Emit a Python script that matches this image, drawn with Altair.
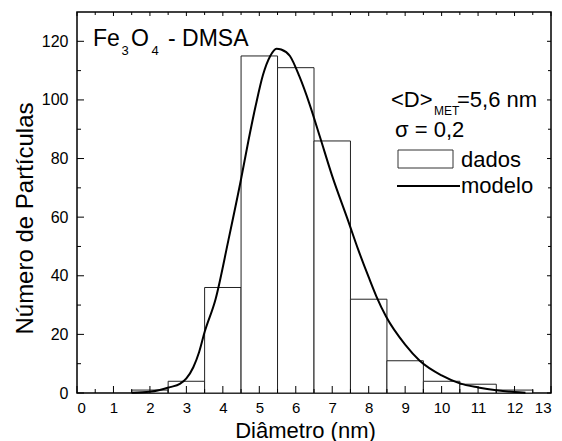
import altair as alt
import pandas as pd

# ---- data ----
bin_centers = [2, 3, 4, 5, 6, 7, 8, 9, 10, 11, 12]
counts = [1, 4, 36, 115, 111, 86, 32, 11, 4, 3, 1]

model_x = [1.5, 2.0, 2.27, 2.55, 2.82, 3.0, 3.19, 3.35, 3.5, 3.8, 4.15, 4.5, 4.7, 4.9,
           5.1, 5.3, 5.47, 5.6, 5.84, 6.1, 6.38, 6.66, 7.0, 7.43, 7.71, 8.0, 8.21,
           8.48, 9.0, 9.4, 10.0, 10.5, 11.0, 11.5, 12.0, 12.3]
model_y = [0.1, 0.4, 1.0, 2.0, 3.1, 5.0, 8.8, 14.0, 20.8, 32.0, 52.0, 73.0, 86.0, 98.0,
           108.5, 115.0, 117.5, 117.2, 115.0, 108.0, 98.5, 87.5, 74.0, 59.0, 49.0, 39.5, 33.0,
           26.0, 16.5, 11.0, 6.0, 3.3, 1.9, 0.9, 0.3, 0.1]

x_major = list(range(0, 14))
x_minor = [i + 0.5 for i in range(0, 13)]
y_major = [0, 20, 40, 60, 80, 100, 120]
y_minor = [10, 30, 50, 70, 90, 110]

W, H = 474, 381
FONT = "Liberation Sans"

bars_df = pd.DataFrame({"c": bin_centers, "n": counts})
bars_df["x0"] = bars_df["c"] - 0.5
bars_df["x1"] = bars_df["c"] + 0.5
bars_df["z"] = 0
model_df = pd.DataFrame({"x": model_x, "y": model_y})

xs = alt.Scale(domain=[0, 13], nice=False, zero=False)
ys = alt.Scale(domain=[0, 130], nice=False)

X_AX = alt.Axis(values=x_major, title="Diâmetro (nm)", labelFontSize=15, labelPadding=7,
                titleFontSize=22, titleX=228, titleY=44, titleBaseline="alphabetic",
                titleAlign="center")
Y_AX = alt.Axis(values=y_major, title="Número de Partículas", labelFontSize=16, labelPadding=9,
                titleFontSize=24, titleX=-45, titleY=206, titleBaseline="alphabetic",
                titleAngle=-90, titleAlign="center")

bars = alt.Chart(bars_df).mark_rect(fill="white", stroke="#222", strokeWidth=1).encode(
    x=alt.X("x0:Q", scale=xs, axis=X_AX),
    x2="x1:Q",
    y=alt.Y("n:Q", scale=ys, axis=Y_AX),
    y2="z:Q",
)

curve = alt.Chart(model_df).mark_line(color="black", strokeWidth=2, interpolate="monotone").encode(
    x=alt.X("x:Q", scale=xs, axis=X_AX),
    y=alt.Y("y:Q", scale=ys, axis=Y_AX),
)

def xticks(vals, y_a, y_b):
    return alt.Chart(pd.DataFrame({"p": vals})).mark_rule(color="black", strokeWidth=1).encode(
        x=alt.X("p:Q", scale=xs, axis=X_AX), y=alt.value(y_a), y2=alt.value(y_b))

def yticks(vals, x_a, x_b):
    return alt.Chart(pd.DataFrame({"p": vals})).mark_rule(color="black", strokeWidth=1).encode(
        y=alt.Y("p:Q", scale=ys, axis=Y_AX), x=alt.value(x_a), x2=alt.value(x_b))

ticks = [
    xticks(x_major, H, H - 7), xticks(x_minor, H, H - 4),
    xticks(x_major, 0, 4), xticks(x_minor, 0, 3),
    yticks(y_major, 0, 7), yticks(y_minor, 0, 4),
    yticks(y_major, W, W - 4), yticks(y_minor, W, W - 3),
]

one = pd.DataFrame({"a": [0]})

def txt(s, x, y, size):
    return alt.Chart(one).mark_text(text=s, align="left", baseline="alphabetic",
                                    fontSize=size, font=FONT, color="black").encode(
        x=alt.value(x), y=alt.value(y))

texts = [
    txt("Fe", 16, 34, 23), txt("3", 44.5, 43, 13), txt("O", 54, 34, 23),
    txt("4", 74.5, 43, 13), txt("- DMSA", 91, 34, 23),
    txt("<D>", 314, 95, 22), txt("MET", 357, 103, 12), txt("=5,6 nm", 380, 95, 22),
    txt("σ = 0,2", 318, 125, 22),
    txt("dados", 384, 155, 22), txt("modelo", 384, 181, 22),
]

legend_box = alt.Chart(one).mark_rect(fill="white", stroke="#333", strokeWidth=1).encode(
    x=alt.value(321), x2=alt.value(376), y=alt.value(138), y2=alt.value(156))
legend_line = alt.Chart(one).mark_rule(color="black", strokeWidth=2).encode(
    x=alt.value(320), x2=alt.value(383), y=alt.value(174))

chart = alt.layer(bars, curve, *ticks, legend_box, legend_line, *texts).properties(
    width=W, height=H,
    autosize=alt.AutoSizeParams(type="none"),
    padding={"left": 77, "top": 12, "right": 11, "bottom": 48},
    background="white",
).configure_view(stroke="black", strokeWidth=1.5).configure_axis(
    domain=False, ticks=False, grid=False, labelFont=FONT, titleFont=FONT,
    labelColor="black", titleColor="black", titleFontWeight="normal",
)

chart.save("out.html", embed_options={"renderer": "svg", "actions": False})
